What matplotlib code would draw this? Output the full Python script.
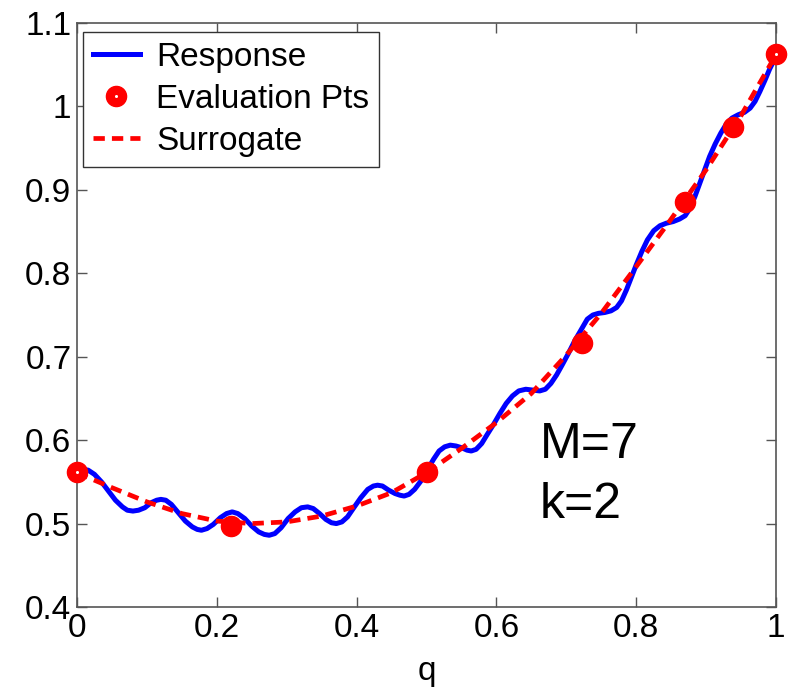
import numpy as np
import matplotlib
matplotlib.use("Agg")
import matplotlib.pyplot as plt
from matplotlib.legend_handler import HandlerTuple

# response curve
q_resp = [0.000, 0.008, 0.016, 0.025, 0.035, 0.045, 0.055, 0.065, 0.072, 0.080,
          0.088, 0.097, 0.106, 0.114, 0.120, 0.127, 0.135, 0.145, 0.155, 0.165,
          0.172, 0.178, 0.186, 0.195, 0.205, 0.214, 0.222, 0.230, 0.240, 0.250,
          0.260, 0.268, 0.275, 0.283, 0.292, 0.302, 0.312, 0.321, 0.330, 0.338,
          0.347, 0.356, 0.364, 0.371, 0.379, 0.387, 0.396, 0.406, 0.416, 0.424,
          0.430, 0.437, 0.446, 0.455, 0.462, 0.468, 0.475, 0.483, 0.492, 0.501,
          0.510, 0.518, 0.526, 0.534, 0.542, 0.550, 0.558, 0.564, 0.571, 0.579,
          0.587, 0.596, 0.605, 0.614, 0.623, 0.632, 0.642, 0.652, 0.662, 0.670,
          0.678, 0.686, 0.694, 0.703, 0.712, 0.721, 0.730, 0.738, 0.746, 0.755,
          0.764, 0.772, 0.779, 0.786, 0.793, 0.800, 0.808, 0.816, 0.825, 0.834,
          0.843, 0.853, 0.862, 0.870, 0.877, 0.884, 0.891, 0.898, 0.905, 0.913,
          0.921, 0.929, 0.937, 0.946, 0.955, 0.963, 0.970, 0.977, 0.984, 0.991,
          1.000]
v_resp = [0.563, 0.565, 0.564, 0.559, 0.550, 0.539, 0.528, 0.520, 0.516, 0.515,
          0.516, 0.519, 0.525, 0.528, 0.529, 0.528, 0.523, 0.513, 0.503, 0.496,
          0.493, 0.492, 0.494, 0.499, 0.507, 0.512, 0.514, 0.512, 0.506, 0.497,
          0.490, 0.487, 0.486, 0.488, 0.495, 0.506, 0.514, 0.519, 0.520, 0.518,
          0.512, 0.505, 0.501, 0.500, 0.502, 0.508, 0.519, 0.531, 0.541, 0.545,
          0.546, 0.545, 0.540, 0.536, 0.534, 0.533, 0.535, 0.541, 0.551, 0.564,
          0.577, 0.587, 0.592, 0.594, 0.593, 0.591, 0.588, 0.587, 0.589, 0.596,
          0.607, 0.619, 0.632, 0.644, 0.653, 0.659, 0.661, 0.660, 0.659, 0.661,
          0.668, 0.678, 0.690, 0.704, 0.719, 0.732, 0.745, 0.750, 0.752, 0.753,
          0.755, 0.759, 0.767, 0.780, 0.795, 0.810, 0.826, 0.840, 0.851, 0.857,
          0.860, 0.862, 0.865, 0.869, 0.878, 0.892, 0.908, 0.924, 0.940, 0.955,
          0.968, 0.979, 0.986, 0.990, 0.993, 0.998, 1.006, 1.018, 1.031, 1.045,
          1.060]

# evaluation points
q_pts = [0.0, 0.221, 0.5, 0.722, 0.870, 0.939, 1.0]
v_pts = [0.562, 0.497, 0.562, 0.717, 0.886, 0.975, 1.063]

# surrogate
q_sur = [0.0, 0.05, 0.1, 0.15, 0.2, 0.25, 0.3, 0.35, 0.4, 0.45, 0.5,
         0.55, 0.6, 0.65, 0.7, 0.75, 0.8, 0.85, 0.9, 0.95, 1.0]
v_sur = [0.561, 0.543, 0.526, 0.512, 0.503, 0.500, 0.502, 0.509, 0.521, 0.537, 0.561,
         0.590, 0.621, 0.656, 0.702, 0.752, 0.808, 0.865, 0.924, 0.989, 1.062]

plt.rcParams['font.family'] = ['Liberation Sans', 'DejaVu Sans']

fig = plt.figure(figsize=(7.9, 6.87), dpi=100)
ax = fig.add_axes([77/790, 1 - 607/687, 699/790, 584/687])

l_resp, = ax.plot(q_resp, v_resp, color='#0000ff', lw=3.6, solid_joinstyle='round', zorder=2)
l_pts, = ax.plot(q_pts, v_pts, 'o', color='#ff0000', ms=14.5, mec='#ff0000', zorder=4, clip_on=False)
# little white centre that shows on the end points and in the legend
l_dot, = ax.plot([q_pts[0], q_pts[-1]], [v_pts[0], v_pts[-1]], 'o', color='white', ms=2.2, mew=0,
                 zorder=5, clip_on=False)
l_sur, = ax.plot(q_sur, v_sur, '--', color='#ff0000', lw=3.4, dashes=(2.4, 1.5), zorder=3)

ax.set_xlim(0, 1)
ax.set_ylim(0.4, 1.1)
ax.set_xticks([0, 0.2, 0.4, 0.6, 0.8, 1])
ax.set_xticklabels(['0', '0.2', '0.4', '0.6', '0.8', '1'])
ax.set_yticks([0.4, 0.5, 0.6, 0.7, 0.8, 0.9, 1.0, 1.1])
ax.set_yticklabels(['0.4', '0.5', '0.6', '0.7', '0.8', '0.9', '1', '1.1'])
ax.tick_params(direction='in', length=7, width=1, color='#555555', labelsize=24,
               top=True, right=True, pad=4)
for s in ax.spines.values():
    s.set_color('#555555')
    s.set_linewidth(1.2)

ax.set_xlabel('q', fontsize=24, labelpad=9)

ax.text(0.662, 0.579, 'M=7', fontsize=36)
ax.text(0.662, 0.507, 'k=2', fontsize=36)

leg = ax.legend([l_resp, (l_pts, l_dot), l_sur], ['Response', 'Evaluation Pts', 'Surrogate'],
                handler_map={tuple: HandlerTuple(ndivide=1)},
                loc='upper left', bbox_to_anchor=(83/790, 1 - 32/687),
                bbox_transform=fig.transFigure, borderaxespad=0, fontsize=24,
                fancybox=False, framealpha=1, edgecolor='#333333',
                handlelength=1.4, handletextpad=0.5, borderpad=0.3,
                labelspacing=0.33)
leg.get_frame().set_linewidth(1.0)

fig.savefig('out.png', dpi=100)
